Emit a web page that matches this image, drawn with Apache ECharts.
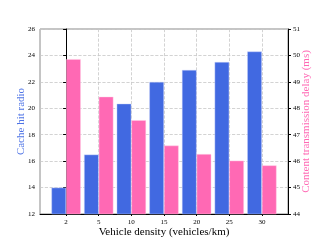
<!DOCTYPE html>
<html><head><meta charset="utf-8">
<script src="https://cdn.jsdelivr.net/npm/echarts@6/dist/echarts.min.js"></script>
<style>html,body{margin:0;padding:0;background:#fff}#c{width:321px;height:241px}</style>
</head><body><div id="c"></div>
<script>
const categories = ['2', '5', '10', '15', '20', '25', '30'];
const cacheHit = [14.0, 16.5, 20.35, 22.0, 22.9, 23.5, 24.3];
const delay = [49.86, 48.44, 47.55, 46.59, 46.27, 46.02, 45.84];
const leftTicks = [12, 14, 16, 18, 20, 22, 24, 26];
const rightTicks = [44, 45, 46, 47, 48, 49, 50, 51];

const idx = categories.map((_, i) => i);
const font = 'Liberation Serif';
const chart = echarts.init(document.getElementById('c'));
chart.setOption({
  animation: false,
  grid: {left: 40, top: 29, right: 33, bottom: 27, containLabel: false, outerBoundsMode: 'none', show: true, borderColor: '#8a8a8a', borderWidth: 1},
  xAxis: {
    type: 'value', min: -0.8, max: 6.8,
    name: 'Vehicle density (vehicles/km)', nameLocation: 'middle', nameGap: 13, nameMoveOverlap: false,
    nameTextStyle: {fontFamily: font, fontSize: 11, color: '#000'},
    axisLine: {show: true, lineStyle: {color: '#000', width: 1}},
    axisTick: {show: true, customValues: idx, length: 2, lineStyle: {color: '#000'}},
    axisLabel: {customValues: idx, formatter: v => categories[Math.round(v)], fontFamily: font, fontSize: 7, color: '#000', margin: 5},
    splitLine: {show: true, lineStyle: {type: 'dashed', color: '#c8c8c8', width: 0.8}}
  },
  yAxis: [{
    type: 'value', min: leftTicks[0], max: leftTicks[leftTicks.length - 1], interval: 2, position: 'left',
    name: 'Cache hit radio', nameLocation: 'middle', nameGap: 13, nameRotate: 90, nameMoveOverlap: false,
    nameTextStyle: {fontFamily: font, fontSize: 11, color: '#4f74e6'},
    axisLine: {show: true, lineStyle: {color: '#000', width: 1}},
    axisTick: {show: true, length: 3, lineStyle: {color: '#000'}},
    axisLabel: {fontFamily: font, fontSize: 7, color: '#000', margin: 5},
    splitLine: {show: true, lineStyle: {type: 'dashed', color: '#c8c8c8', width: 0.8}}
  }, {
    type: 'value', min: rightTicks[0], max: rightTicks[rightTicks.length - 1], interval: 1, position: 'right',
    name: 'Content transmission delay (ms)', nameLocation: 'middle', nameGap: 13, nameRotate: 90, nameMoveOverlap: false,
    nameTextStyle: {fontFamily: font, fontSize: 11, color: '#FF69B4'},
    axisLine: {show: true, lineStyle: {color: '#000', width: 1}},
    axisTick: {show: true, length: 3, lineStyle: {color: '#000'}},
    axisLabel: {fontFamily: font, fontSize: 7, color: '#000', margin: 5},
    splitLine: {show: false}
  }],
  series: [{
    type: 'bar', yAxisIndex: 0, barWidth: 14.7, barGap: '0%',
    data: cacheHit.map((v, i) => [i, v]),
    itemStyle: {color: '#4169E1', borderColor: 'rgba(200,210,250,0.7)', borderWidth: 0.6}
  }, {
    type: 'bar', yAxisIndex: 1, barWidth: 14.7, barGap: '0%',
    data: delay.map((v, i) => [i, v]),
    itemStyle: {color: '#FF69B4', borderColor: 'rgba(255,210,230,0.7)', borderWidth: 0.6}
  }]
});
</script></body></html>
